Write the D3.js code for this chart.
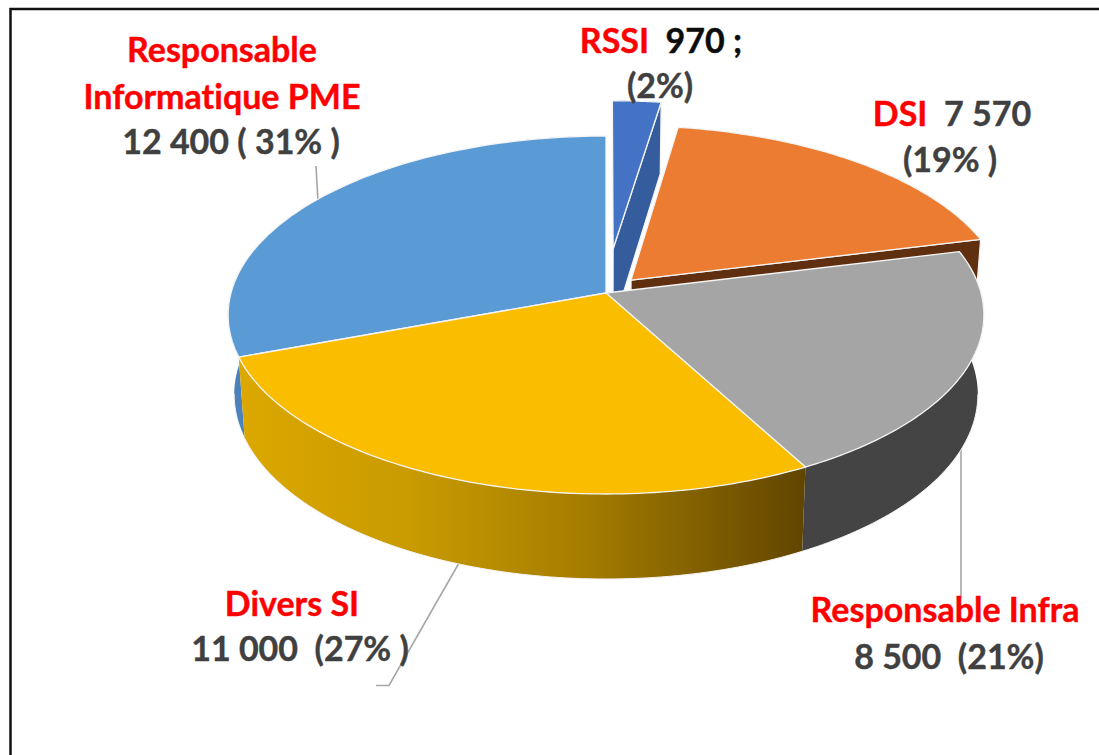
<!DOCTYPE html>
<html><head><meta charset="utf-8">
<script src="https://cdn.jsdelivr.net/npm/d3@7/dist/d3.min.js"></script>
<style>html,body{margin:0;padding:0;background:#fff}svg{display:block}text{font-family:Lato,sans-serif;font-weight:700;white-space:pre;font-variant-ligatures:none}</style>
</head><body><svg id="c" width="1099" height="755"></svg>
<script>
// Data (clockwise from 12 o'clock)
const categories = ["RSSI", "DSI", "Responsable Infra", "Divers SI", "Responsable Informatique PME"];
const values = [970, 7570, 8500, 11000, 12400];
const explosion = [0.26, 0.10, 0, 0, 0];
const topColors = ["#4472c4", "#eb7c31", "#a5a5a5", "#fbbd00", "#5b9bd5"];
const wallColors = ["#355d9e", "#5f2f10", "#444444", "url(#yellowWall)", "#4a82b9"];

const W = 1099, H = 755, FS = 34;
const svg = d3.select("#c");

// Perspective projection of the unit disc (u right, v back, z down)
const k = 0.1229, cx = 606, cy = 293, A = 375, S = 176.3;
const px = d3.scaleLinear().domain([-1, 1]).range([cx - A, cx + A]);
const py = d3.scaleLinear().domain([-1, 1]).range([cy + S, cy - S]);
function proj(u, v, z) {
  const w = 1 + k * v;
  return [px(u / w * (1 - 0.016 * z)), py(v / w) + z * (79 - 6 * v)];
}

const arcs = d3.pie().sort(null).startAngle(0).endAngle(2 * Math.PI)(values);
const line = d3.line();

const defs = svg.append("defs");
const grad = defs.append("linearGradient").attr("id", "yellowWall")
  .attr("gradientUnits", "userSpaceOnUse")
  .attr("x1", 238).attr("x2", 806).attr("y1", 0).attr("y2", 0);
[[0, "#dca800"], [0.3, "#c99b00"], [0.6, "#a67e00"], [1, "#614500"]].forEach(([o, c]) =>
  grad.append("stop").attr("offset", o).attr("stop-color", c));

// Frame (open at right and bottom)
svg.append("path").attr("d", line([[10.5, H], [10.5, 9], [W, 9]]))
  .attr("fill", "none").attr("stroke", "#111").attr("stroke-width", 2.5);

// Leader lines
const leaders = [
  [[316, 166], [318, 202]],
  [[961, 440], [961, 598]],
  [[459, 563], [389, 685.5], [376, 685.5]]
];
svg.append("g").selectAll("path").data(leaders).join("path")
  .attr("d", d => line(d)).attr("fill", "none").attr("stroke", "#a6a6a6").attr("stroke-width", 1.6);

// Slices, back to front
const order = [0, 1, 4, 2, 3];
const gPie = svg.append("g");
order.forEach(i => {
  const a = arcs[i], e = explosion[i];
  const mid = (a.startAngle + a.endAngle) / 2;
  const ox = e * Math.sin(mid), oy = e * Math.cos(mid);
  const thetas = d3.range(0, 91).map(t => a.startAngle + (a.endAngle - a.startAngle) * t / 90);
  const rim = thetas.map(th => [ox + Math.sin(th), oy + Math.cos(th)]);
  const P = z => p => proj(p[0], p[1], z);
  const shape = (pts, fill) => gPie.append("path").attr("d", line(pts) + "Z")
    .attr("fill", fill).attr("stroke", "#f4f4f4").attr("stroke-width", 1.3)
    .attr("stroke-linejoin", "round");
  // outer wall: swept band of small quads, so the silhouette follows the generators
  const quads = d3.pairs(rim).map(([p, q]) =>
    line([proj(p[0], p[1], 0), proj(q[0], q[1], 0), proj(q[0], q[1], 1), proj(p[0], p[1], 1)]) + "Z").join("");
  gPie.append("path").attr("d", quads).attr("fill", wallColors[i]);
  // light lower rim and front edge of the wall
  const front = rim.filter((p, j) => Math.cos(thetas[j]) < -0.12);
  if (front.length) {
    gPie.append("path").attr("d", line(front.map(P(1))))
      .attr("fill", "none").attr("stroke", "#f4f4f4").attr("stroke-width", 1);
  }
  // clockwise cut face of an exploded slice
  if (e > 0) {
    const end = rim[rim.length - 1];
    shape([proj(ox, oy, 0), proj(end[0], end[1], 0), proj(end[0], end[1], 1), proj(ox, oy, 1)], wallColors[i]);
  }
  // top face
  shape([proj(ox, oy, 0)].concat(rim.map(P(0))), topColors[i]);
});

// Labels
const red = "#ff0000", dark = "#404040", black = "#0d0d0d";
const labelLines = [
  { x: 661, y: 53,  parts: [["RSSI", red], ["  970 ;", black]] },
  { x: 660, y: 98,  parts: [["(2%)", dark]] },
  { x: 952, y: 126, parts: [["DSI", red], ["  7 570", dark]] },
  { x: 950, y: 172, parts: [["(19% )", dark]] },
  { x: 222, y: 62,  parts: [["Responsable", red]] },
  { x: 222, y: 109, parts: [["Informatique PME", red]] },
  { x: 231, y: 154, parts: [["12 400 ( 31% )", dark]] },
  { x: 292, y: 616, parts: [["Divers SI", red]] },
  { x: 300, y: 661, parts: [["11 000  (27% )", dark]] },
  { x: 945, y: 622, parts: [["Responsable Infra", red]] },
  { x: 949, y: 669, parts: [["8 500  (21%)", dark]] }
];
const texts = svg.append("g").selectAll("text").data(labelLines).join("text")
  .attr("x", d => d.x).attr("y", d => d.y).attr("text-anchor", "middle")
  .attr("font-size", FS).attr("xml:space", "preserve");
texts.selectAll("tspan").data(d => d.parts).join("tspan")
  .attr("fill", d => d[1]).attr("stroke", d => d[1]).attr("stroke-width", 0.4).text(d => d[0]);
</script></body></html>
